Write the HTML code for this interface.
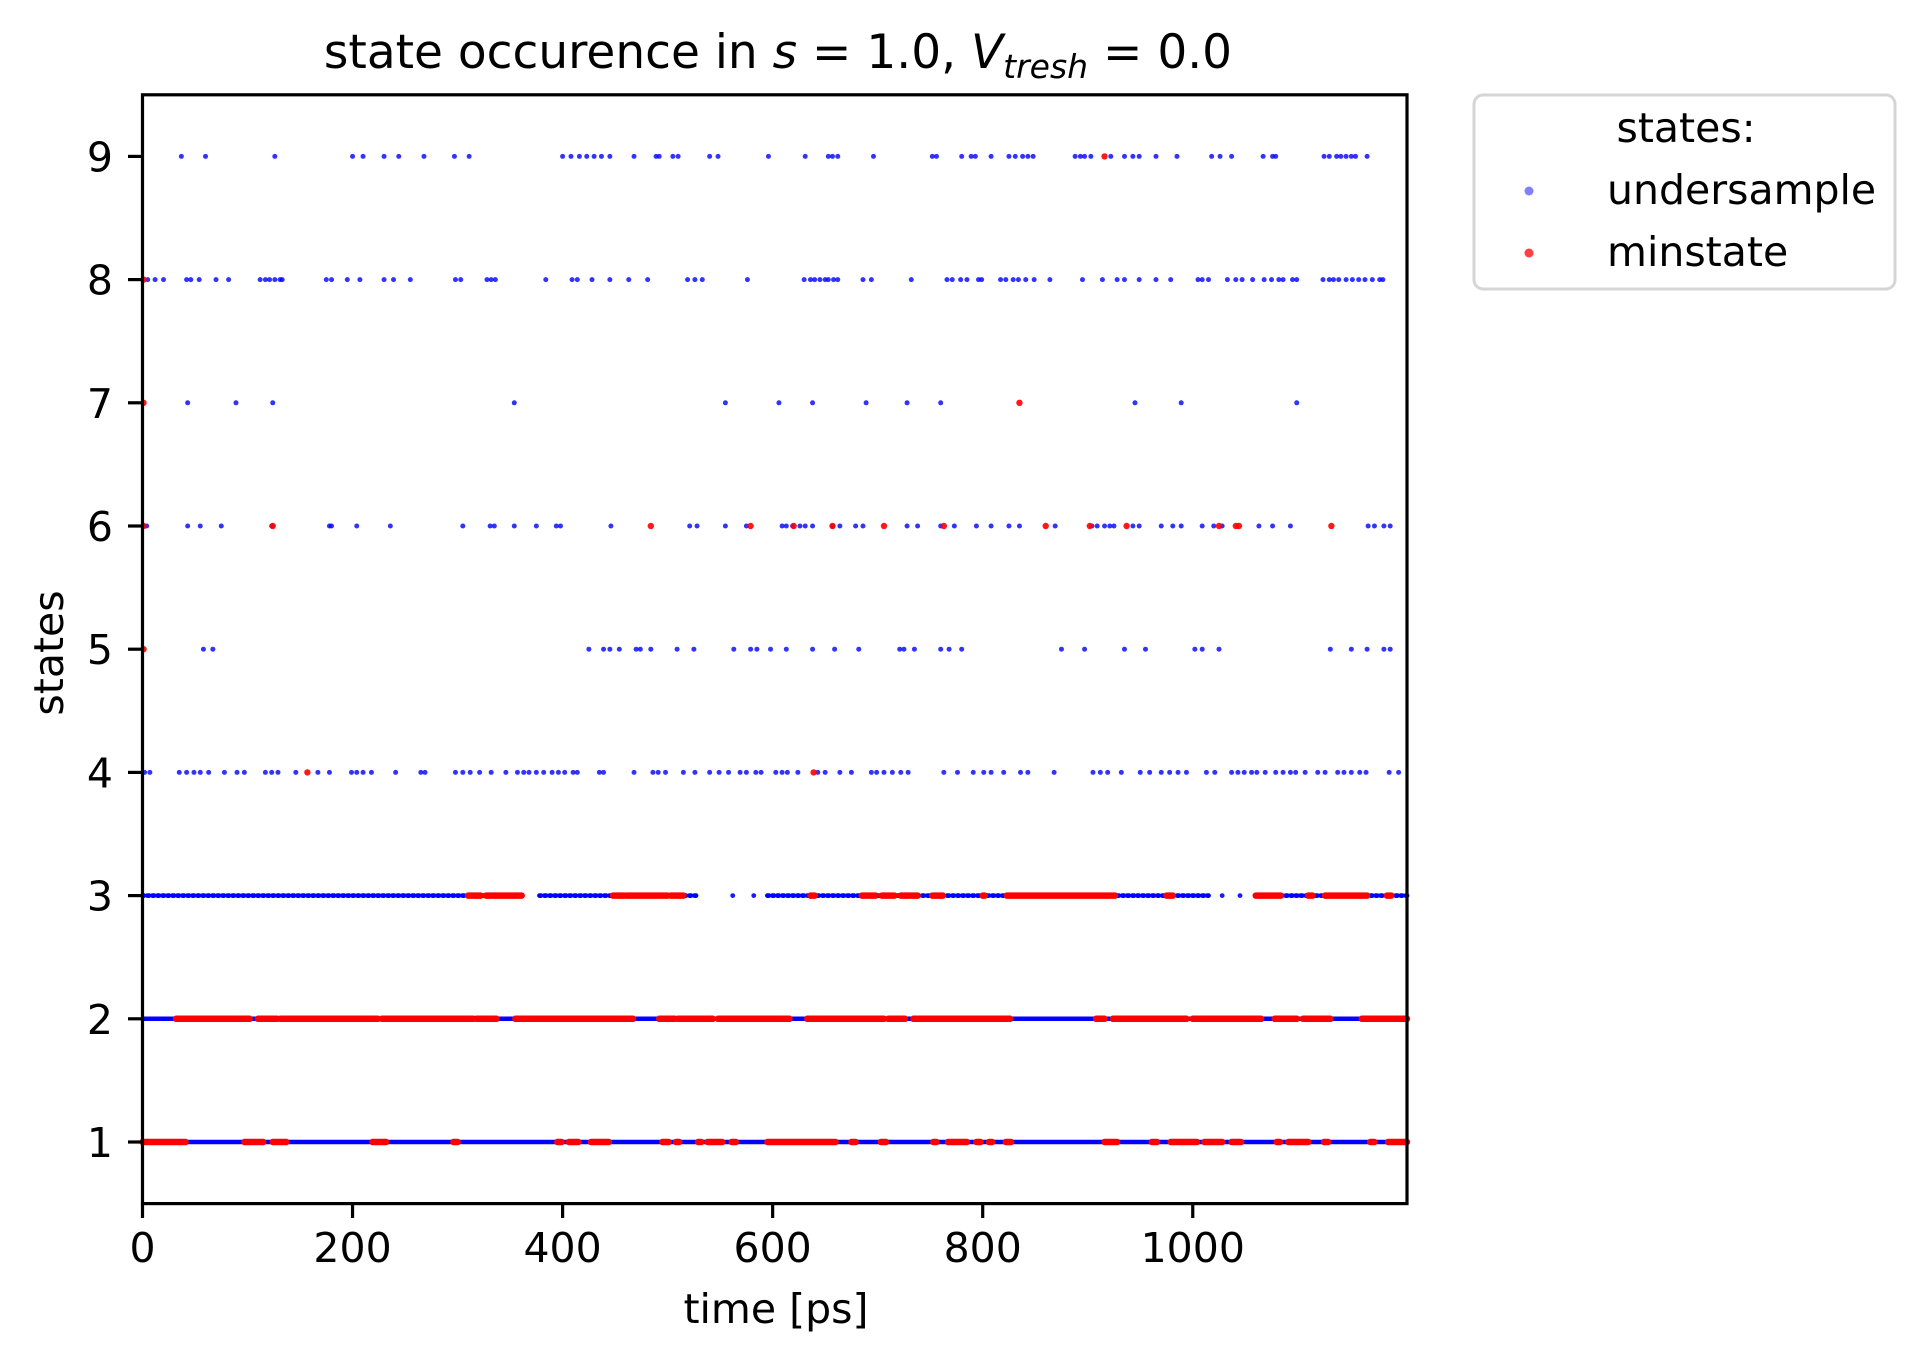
<!DOCTYPE html>
<html><head><meta charset="utf-8"><style>
html,body{margin:0;padding:0;background:#fff;}
svg{display:block;font-family:"DejaVu Sans","Liberation Sans",sans-serif;}
</style></head><body>
<svg id="chart" width="1923" height="1359" viewBox="0 0 1923 1359" xmlns="http://www.w3.org/2000/svg">
<rect width="1923" height="1359" fill="#fff"/>
<text x="778" y="68" font-size="47" text-anchor="middle">state occurence in <tspan font-style="italic">s</tspan> = 1.0, <tspan font-style="italic">V</tspan><tspan font-style="italic" font-size="33" dy="10">tresh</tspan><tspan dy="-10"> = 0.0</tspan></text>
<g id="marks"></g>
<rect x="142.5" y="94.8" width="1264.5" height="1108.8" fill="none" stroke="#000" stroke-width="3.2"/>
<g id="axes"></g>
<text x="776" y="1323" font-size="41" text-anchor="middle">time [ps]</text>
<text x="0" y="0" font-size="41" text-anchor="middle" transform="translate(63,653) rotate(-90)">states</text>
<g transform="translate(-5,0)">
<rect x="1479" y="95" width="421" height="194" rx="9" fill="#fff" stroke="#d5d5d5" stroke-width="3"/>
<text x="1691" y="142" font-size="41" text-anchor="middle">states:</text>
<circle cx="1534" cy="191" r="4.5" fill="#8080ff"/>
<text x="1612" y="204" font-size="41">undersample</text>
<circle cx="1534" cy="253" r="4.5" fill="#ff4040"/>
<text x="1612" y="266" font-size="41">minstate</text>
</g>
</svg>
<script>
const xTicks=[0,200,400,600,800,1000];
const yTicks=[1,2,3,4,5,6,7,8,9];
const xMax=1204;
const blueIntervals1=[[0,1204]];
const blueIntervals2=[[0,1204]];
const blueIntervals3=[[0,361],[378,527],[595,1015],[1060,1204]];
const blueSingles3=[562,582,1028,1045];
const redIntervals1=[[0,41],[97,115],[124,137],[219,232],[296,300],[395,399],[406,415],[427,444],[495,501],[508,511],[529,532],[538,552],[561,565],[595,660],[675,679],[703,708],[753,756],[767,785],[794,798],[806,809],[822,827],[916,928],[961,966],[979,1004],[1011,1028],[1037,1046],[1080,1083],[1091,1110],[1125,1129],[1169,1173],[1186,1204]];
const redIntervals2=[[32,102],[110,128],[131,224],[228,315],[318,337],[355,467],[492,507],[510,543],[548,616],[633,706],[710,726],[734,826],[908,916],[924,994],[1000,1065],[1078,1099],[1105,1131],[1161,1204]];
const redIntervals3=[[310,322],[327,361],[448,458],[460,500],[503,515],[636,640],[685,698],[704,716],[722,738],[752,762],[800,802],[823,926],[975,981],[1060,1084],[1110,1114],[1126,1166],[1185,1189]];
const blue4=[2,7,35,42,49,55,63,78,90,97,117,123,129,146,167,178,199,204,210,218,241,265,269,298,305,312,321,332,346,357,363,368,375,382,390,396,402,410,414,435,439,468,486,491,498,515,526,540,549,558,569,575,584,589,603,609,614,624,643,650,664,675,694,699,706,714,722,729,763,776,791,801,808,820,836,843,868,905,912,919,932,950,959,970,978,986,994,1013,1021,1037,1043,1049,1056,1061,1069,1079,1086,1093,1098,1107,1119,1126,1138,1144,1151,1159,1165,1187,1196];
const red4=[157,639];
const blue5=[58,67,425,439,445,454,470,474,484,509,525,563,579,585,598,613,638,659,682,721,725,735,760,768,780,875,897,935,955,1002,1009,1025,1131,1151,1166,1182,1188];
const red5=[1];
const blue6=[4,43,55,75,123,178,180,204,236,305,331,335,354,375,394,398,446,521,528,555,575,609,613,619,626,631,638,657,664,679,686,728,738,760,773,794,808,825,835,869,904,909,916,921,925,943,949,970,981,989,1009,1020,1028,1063,1076,1093,1167,1173,1182,1188];
const red6=[1,124,484,579,620,657,706,763,860,902,937,1025,1041,1044,1132];
const blue7=[43,89,124,354,555,606,638,689,728,760,945,989,1099];
const red7=[1,835];
const blue8=[5,12,20,42,46,54,70,82,112,117,121,126,131,133,175,180,195,207,230,239,255,298,303,328,332,336,384,409,414,428,445,463,481,519,526,533,576,630,636,640,645,650,653,658,662,686,694,732,766,771,779,785,796,799,817,822,829,834,841,849,864,895,914,928,935,949,965,979,1005,1009,1015,1033,1041,1047,1057,1068,1075,1082,1086,1095,1099,1124,1130,1134,1139,1146,1152,1158,1164,1171,1178,1181];
const red8=[1];
const blue9=[37,60,126,200,210,230,244,268,297,311,400,408,416,423,430,437,445,468,489,492,505,510,540,548,596,631,653,657,662,696,752,756,780,789,793,808,825,831,838,843,848,888,893,897,903,922,935,943,949,965,985,1018,1026,1037,1067,1076,1079,1125,1130,1137,1141,1146,1151,1155,1166];
const red9=[916];

const L=142.5,R=1407,Y1=1142,DY=123.2;
function xs(t){return L+(t/xMax)*(R-L);}
function ys(s){return Y1-(s-1)*DY;}
const NS='http://www.w3.org/2000/svg';
const marks=document.getElementById('marks');
const axes=document.getElementById('axes');
function seg(a,b,s,color,w,name,dash){
  const l=document.createElementNS(NS,'line');
  l.setAttribute('x1',xs(a));l.setAttribute('x2',xs(b));
  l.setAttribute('y1',ys(s));l.setAttribute('y2',ys(s));
  l.setAttribute('stroke',color);l.setAttribute('stroke-width',w);l.setAttribute('stroke-linecap','round');
  if(dash){l.setAttribute('stroke-dasharray',dash);}
  
  
  marks.appendChild(l);
}
function dot(t,s,color,r,op,name){
  const c=document.createElementNS(NS,'circle');
  c.setAttribute('cx',xs(t));c.setAttribute('cy',ys(s));c.setAttribute('r',r);
  c.setAttribute('fill',color);c.setAttribute('fill-opacity',op);
  
  
  marks.appendChild(c);
}
const blueSparse={4:blue4,5:blue5,6:blue6,7:blue7,8:blue8,9:blue9};
const redSparse={4:red4,5:red5,6:red6,7:red7,8:red8,9:red9};
blueIntervals1.forEach(iv=>seg(iv[0],iv[1],1,'#0000ff',4.5,'undersample-segment'));
blueIntervals2.forEach(iv=>seg(iv[0],iv[1],2,'#0000ff',4.5,'undersample-segment'));
blueIntervals3.forEach(iv=>seg(iv[0],iv[1],3,'#0000ff',4.8,'undersample-segment','1.5 3.5'));
blueSingles3.forEach(t=>dot(t,3,'#0000ff',2.4,0.9,'undersample-point'));
for(const s in blueSparse){blueSparse[s].forEach(t=>dot(t,+s,'#0000ff',2.5,0.8,'undersample-point'));}
redIntervals1.forEach(iv=>seg(iv[0],iv[1],1,'#ff0000',6.5,'minstate-segment'));
redIntervals2.forEach(iv=>seg(iv[0],iv[1],2,'#ff0000',6.5,'minstate-segment'));
redIntervals3.forEach(iv=>seg(iv[0],iv[1],3,'#ff0000',6.5,'minstate-segment'));
for(const s in redSparse){redSparse[s].forEach(t=>dot(t,+s,'#ff0000',3.2,0.9,'minstate-point'));}
xTicks.forEach(v=>{
  const l=document.createElementNS(NS,'line');
  l.setAttribute('x1',xs(v));l.setAttribute('x2',xs(v));l.setAttribute('y1',1203.6);l.setAttribute('y2',1218);
  l.setAttribute('stroke','#000');l.setAttribute('stroke-width',3.2);
  
  
  axes.appendChild(l);
  const t=document.createElementNS(NS,'text');
  t.setAttribute('x',xs(v));t.setAttribute('y',1262);t.setAttribute('font-size',41);t.setAttribute('text-anchor','middle');
  t.textContent=v;
  
  
  axes.appendChild(t);
});
yTicks.forEach(v=>{
  const l=document.createElementNS(NS,'line');
  l.setAttribute('x1',128);l.setAttribute('x2',142.5);l.setAttribute('y1',ys(v));l.setAttribute('y2',ys(v));
  l.setAttribute('stroke','#000');l.setAttribute('stroke-width',3.2);
  
  
  axes.appendChild(l);
  const t=document.createElementNS(NS,'text');
  t.setAttribute('x',113);t.setAttribute('y',ys(v)+15);t.setAttribute('font-size',41);t.setAttribute('text-anchor','end');
  t.textContent=v;
  
  
  axes.appendChild(t);
});
</script>
</body></html>
